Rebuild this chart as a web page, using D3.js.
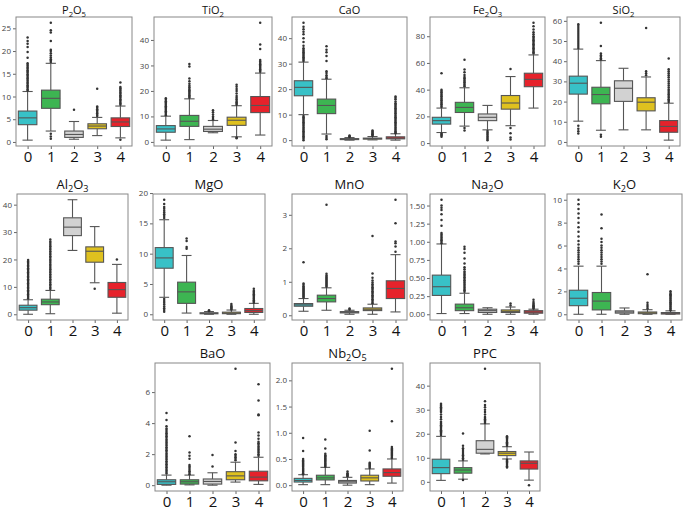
<!DOCTYPE html>
<html><head><meta charset="utf-8">
<script src="https://cdn.jsdelivr.net/npm/d3@7"></script>
<style>body{margin:0;background:#fff}</style>
</head><body><svg id="c" width="685" height="510"></svg>
<script>
const categories=["0","1","2","3","4"];
const colors=["#38c1c7","#3db552","#d2d2d2","#dfc11f","#e6222b"];

// ---- P2O5 ----
const P2O5_box=[[0.4,3.8,5.3,6.8,11.1],[2.4,7.4,9.6,11.4,17.3],[0.6,1.0,1.65,2.4,4.5],[1.4,2.9,3.5,4.0,5.4],[0.9,3.4,4.4,5.3,7.9]];
const P2O5_out=[[11.3,11.6,11.9,12.2,12.5,12.8,13.1,13.4,13.7,14,14.3,14.6,14.9,15.2,15.5,15.8,16.1,16.4,16.7,17,17.3,18.5,19.8,20.9,21.6,22.2,23.0],
 [17.6,17.9,18.2,18.6,19,19.5,20,20.3,22.2,24.1,24.6,26.2,1.8,1.2,0.7],
 [7.1],
 [5.7,6.0,6.3,6.6,6.9,7.2,7.5,7.8,11.7],
 [8.2,8.5,8.8,9.1,9.4,9.7,10,10.3,10.6,10.9,11.2,11.5,11.8,12.1,13.1,0.5]];
const P2O5_ticks=[0,5,10,15,20,25];

// ---- TiO2 ----
const TiO2_box=[[0.7,3.8,5.1,6.4,10.1],[0.9,6.1,8.1,10.4,16.9],[3.6,4.1,5.0,6.1,8.4],[2.0,6.5,8.5,9.7,14.2],[2.7,11.5,14.3,17.8,27]];
const TiO2_out=[[10.5,11,11.5,12,12.5,13,13.5,14,14.5,15,15.5,16,16.5,17.1],
 [17.3,17.8,18.3,18.8,19.3,19.8,20.3,20.8,21.4,22,22.8,23.8,24.9,29.6,30.6],
 [8.8,9.4,10,10.8,11.6,12.4],
 [14.6,15.1,15.6,16.1,16.7,17.3,18,19,20,20.8,21.6,22.4,1.7,1.4],
 [27.5,28,28.5,29,29.5,30,30.5,31,31.5,32.1,36.4,38.2,46.7]];
const TiO2_ticks=[0,10,20,30,40];

// ---- CaO ----
const CaO_box=[[10.0,17.4,20.7,23.3,30.6],[2.4,10.4,13.6,16.1,23.9],[0,0.3,0.4,0.6,1.0],[0.1,0.4,0.6,0.8,1.4],[0,0.5,0.8,1.3,2.5]];
const CaO_out=[[31,31.5,32,32.5,33,33.5,34,34.5,35,35.5,36,37,38.5,40,41.5,42.5,43.5,44.5,46,9.5,9,8.5,8,7.5,7,6.5,6,5.5,5,4.5,4,3.5,3,2.5,2,1.5,1,0.5,0],
 [24.3,24.8,25.5,26.3,27,31,33,34.5,35.5,36.8,1.6,0.9,0.3],
 [1.2,1.5,1.8],
 [1.7,2,2.3,2.6,3,3.4,3.8],
 [2.7,3,3.5,4,4.5,5,5.5,6,6.5,7,7.5,8,8.5,9,9.5,10,10.5,11,11.5,12,12.5,13,13.5,14,14.5,15.2,16,16.6,17.1]];
const CaO_ticks=[0,10,20,30,40];

// ---- Fe2O3 ----
const Fe2O3_box=[[7.9,14.2,16.8,19.3,26.2],[12.7,22.9,26.7,30.5,41.4],[9.9,16.8,19.3,21.8,28.2],[13,25.4,30.0,35.6,49.8],[26.2,42.2,47.7,52.3,66]];
const Fe2O3_out=[[27,28,29,30,31,32,33,34,35,36,37,38,39,40,52.2,7.2,6.4,5.6,4.8],
 [42.5,43.5,44.5,45.5,46.5,47.5,48.5,49.5,51,53,55,62.3,11.2,9.5],
 [9,8,7,6,5,4,3,2.2],
 [55.5,11.2,7.3,4.2,2.6],
 [67,68,69,70,71,72,73,74,75,76,77,78,79,80,81.5,83,85,87.5,90]];
const Fe2O3_ticks=[0,20,40,60,80];

// ---- SiO2 ----
const SiO2_box=[[10.3,23.7,29.1,32.6,46],[5.8,18.9,23.5,27.1,40.3],[6.0,20.1,26.6,30.3,36.5],[6.0,15.4,19.7,21.9,32.2],[0.9,4.8,7.7,10.6,19.2]];
const SiO2_out=[[46.5,47.5,48.5,49.5,50.5,51.5,52.5,53.5,54.5,55.5,56.5,57.5,58.3,8,6.6,5.3,4.2],
 [40.8,41.5,42.2,43,43.8,47.5,59,3.6,2.6],
 [],
 [33,34,35,56.5],
 [19.8,20.5,21.2,22,22.8,23.6,24.4,25.2,26,27,28,29,30,31,32,33,34,35,36,41.3]];
const SiO2_ticks=[0,10,20,30,40,50,60];

// ---- Al2O3 ----
const Al2O3_box=[[0,1.5,2.4,3.3,5.3],[0.2,3.5,4.5,5.5,8.7],[23.3,28.7,31.8,35.2,41.8],[11.5,19.0,23.0,24.6,32.0],[0.4,6.2,9.0,11.6,18.2]];
const Al2O3_out=[[5.8,6.3,6.8,7.3,7.8,8.3,8.8,9.3,9.8,10.3,10.8,11.3,11.8,12.3,12.8,13.3,13.8,14.3,14.8,15.3,15.8,16.3,16.8,17.3,17.8,18.3,18.8,19.3,19.8],
 [9.2,9.8,10.4,11,11.6,12.2,12.8,13.4,14,14.6,15.2,15.8,16.4,17,17.6,18.2,18.8,19.4,20,20.6,21.2,21.8,22.4,23,23.6,24.2,24.8,25.4,26,26.6,27.3],
 [],
 [9.3],
 [20]];
const Al2O3_ticks=[0,10,20,30,40];

// ---- MgO ----
const MgO_box=[[2.8,7.6,9.3,11.0,15.6],[0.2,1.8,3.7,5.3,9.7],[0,0.08,0.15,0.25,0.45],[0,0.1,0.2,0.35,0.7],[0,0.3,0.6,0.95,1.8]];
const MgO_out=[[15.9,16.2,16.5,16.8,17.1,17.4,17.7,18.2,18.9,2.5,2.2,1.9,1.6,1.3,1.0,0.7,0.4],
 [10.8,11.1,12.1,12.5],
 [0.55,0.65],
 [0.8,0.95,1.1,1.25,1.4,1.7],
 [1.9,2.1,2.3,2.5,2.7,2.9,3.1,3.3,3.5,3.7,3.9,4.2]];
const MgO_ticks=[0,5,10,15,20];

// ---- MnO ----
const MnO_box=[[0.12,0.27,0.31,0.35,0.5],[0.15,0.4,0.5,0.6,0.82],[0.03,0.07,0.09,0.11,0.15],[0.03,0.14,0.18,0.22,0.33],[0.1,0.5,0.8,1.03,1.81]];
const MnO_out=[[0.53,0.56,0.59,0.62,0.65,0.68,0.71,0.74,0.77,0.8,0.83,0.87,0.91,0.95,1.58],
 [0.85,0.88,0.91,0.94,0.97,1,1.03,1.06,1.09,1.12,1.15,1.19,1.24,3.3],
 [0.17,0.2],
 [0.36,0.4,0.44,0.48,0.52,0.56,0.6,0.64,0.68,0.72,0.76,0.8,0.84,0.88,0.93,0.98,1.04,1.12,1.25,2.37],
 [1.9,2.05,2.15,2.2,2.75,3.45]];
const MnO_ticks=[0,1,2,3];

// ---- Na2O ----
const Na2O_box=[[0.01,0.26,0.38,0.54,0.97],[0.01,0.05,0.09,0.14,0.29],[0,0.025,0.05,0.07,0.09],[0,0.025,0.04,0.06,0.1],[0,0.015,0.03,0.05,0.07]];
const Na2O_out=[[0.98,1.0,1.02,1.04,1.06,1.08,1.1,1.12,1.22,1.3,1.38,1.44,1.47,1.5,1.58],
 [0.31,0.33,0.35,0.37,0.39,0.41,0.43,0.45,0.47,0.49,0.51,0.53,0.55,0.57,0.59,0.62,0.65,0.7,0.77,0.85,0.9,0.93],
 [],
 [0.12,0.15],
 [0.08,0.09,0.1,0.11,0.12,0.13,0.15,0.17,0.2]];
const Na2O_ticks=[0,0.25,0.5,0.75,1.0,1.25,1.5];

// ---- K2O ----
const K2O_box=[[0,0.75,1.4,2.1,4.2],[0,0.38,1.15,1.9,4.2],[0,0.1,0.2,0.3,0.55],[0,0.05,0.12,0.2,0.4],[0,0.02,0.08,0.15,0.3]];
const K2O_out=[[4.4,4.6,4.8,5,5.2,5.4,5.6,5.8,6.1,6.4,6.8,7.2,7.6,8,8.4,8.8,9.2,9.6,10],
 [4.4,4.6,4.8,5,5.2,5.4,5.6,5.8,6,6.3,6.6,7.5,8.7],
 [],
 [0.5,0.65,0.8,1.0,3.5],
 [0.35,0.45,0.55,0.65,0.75,0.85,0.95,1.05,1.15,1.25,1.35,1.45,1.55,1.65,1.75,1.85,2.0]];
const K2O_ticks=[0,2,4,6,8,10];

// ---- BaO ----
const BaO_box=[[0,0.05,0.22,0.35,0.65],[0.02,0.07,0.22,0.35,0.65],[0,0.07,0.24,0.4,0.8],[0.2,0.35,0.6,0.87,1.48],[0.05,0.28,0.52,0.9,1.8]];
const BaO_out=[[0.75,0.85,0.95,1.05,1.15,1.25,1.35,1.45,1.55,1.65,1.75,1.85,1.95,2.05,2.15,2.25,2.35,2.45,2.55,2.65,2.75,2.85,2.95,3.05,3.15,3.25,3.35,3.45,3.55,3.65,3.8,4.2,4.65],
 [0.7,0.8,0.9,1.0,1.1,1.2,1.3,1.7,1.9,2.1,3.15],
 [1.2,1.95],
 [1.6,1.7,1.8,1.9,2.0,2.2,2.75,7.5],
 [1.9,2.0,2.1,2.2,2.3,2.4,2.5,2.6,2.7,2.8,3.0,3.2,3.4,4.5,4.55,5.45,6.5]];
const BaO_ticks=[0,2,4,6];

// ---- Nb2O5 ----
const Nb2O5_box=[[0.01,0.06,0.09,0.13,0.2],[0.01,0.1,0.14,0.19,0.34],[0,0.04,0.065,0.09,0.15],[0.01,0.08,0.14,0.19,0.31],[0.04,0.17,0.24,0.31,0.5]];
const Nb2O5_out=[[0.21,0.23,0.25,0.27,0.29,0.31,0.33,0.35,0.37,0.39,0.41,0.43,0.45,0.47,0.5,0.65,0.9],
 [0.35,0.37,0.39,0.41,0.43,0.45,0.47,0.49,0.51,0.53,0.55,0.57,0.6,0.7,0.87],
 [0.17,0.19,0.21,0.23,0.26],
 [0.33,0.35,0.37,0.39,0.41,0.43,0.66,1.04],
 [0.52,0.54,0.56,0.58,0.6,0.62,0.64,0.66,0.68,0.7,0.73,1.22,2.22]];
const Nb2O5_ticks=[0,0.5,1.0,1.5,2.0];

// ---- PPC ----
const PPC_box=[[0.6,3.4,5.9,9.4,18.9],[1.1,3.6,4.9,5.9,8.7],[11.6,11.9,13.5,17.1,24.1],[9.5,10.9,11.9,12.6,14.6],[0.7,5.3,7.7,8.7,12.4]];
const PPC_out=[[19.5,20,20.5,21,21.5,22,22.5,23,23.5,24,24.5,25,26,27,28,29,29.5,30,30.5,31,31.5,32,32.5],
 [9.2,9.8,10.4,11,11.6,12.4,13.2,14,15,20.1,0.8],
 [24.5,25,25.5,26,26.5,27,28,29,30,31,32,33.5,47],
 [15,15.5,16,16.5,17,17.5,18,18.5,19,9.2,8.8,8.4,8,7.5,7,6.5,6],
 [-1.4]];
const PPC_ticks=[0,10,20,30,40];

const titles=["P_2O_5","TiO_2","CaO","Fe_2O_3","SiO_2","Al_2O_3","MgO","MnO","Na_2O","K_2O","BaO","Nb_2O_5","PPC"];
const tickFormats=[null,null,null,null,null,null,null,null,".2f",null,null,".1f",null];

const panels=[
 [P2O5_box,P2O5_out,P2O5_ticks],[TiO2_box,TiO2_out,TiO2_ticks],[CaO_box,CaO_out,CaO_ticks],
 [Fe2O3_box,Fe2O3_out,Fe2O3_ticks],[SiO2_box,SiO2_out,SiO2_ticks],[Al2O3_box,Al2O3_out,Al2O3_ticks],
 [MgO_box,MgO_out,MgO_ticks],[MnO_box,MnO_out,MnO_ticks],[Na2O_box,Na2O_out,Na2O_ticks],
 [K2O_box,K2O_out,K2O_ticks],[BaO_box,BaO_out,BaO_ticks],[Nb2O5_box,Nb2O5_out,Nb2O5_ticks],
 [PPC_box,PPC_out,PPC_ticks]];

// layout: [left,right,top,bottom,titleSize,titleGap]
const layout=[
 [16,132,17,146,11,3],[154,272,17,146,11,3],[292,407,17,146,11,3],[430,545,17,146,11,3],[567,680,17,146,11,3],
 [17,128,194,320,13,5],[153,265,194,320,13,5],[292,407,194,320,13,5],[430,545,194,320,13,5],[567,682,194,320,13,5],
 [155,270,363,491,13,5],[292,403,363,491,13,5],[430,540,363,491,13,5]];

const svg=d3.select("#c");
const FONT="'Open Sans','Noto Sans',sans-serif";
const lineCol="#555";

panels.forEach((p,i)=>{
  const [box,out,ticks]=p;
  const [L,R,T,B,ts,gap]=layout[i];
  const vals=[];
  box.forEach(b=>vals.push(b[0],b[4]));
  out.forEach(o=>o.forEach(v=>vals.push(v)));
  const mn=d3.min(vals), mx=d3.max(vals), pad=(mx-mn)*0.05;
  const y=d3.scaleLinear().domain([mn-pad,mx+pad]).range([B,T]);
  const x=d3.scaleLinear().domain([-0.5,4.5]).range([L,R]);
  const g=svg.append("g");
  const unit=(R-L)/5, bw=unit*0.8, cw=bw*0.55;

  // y axis
  const [d0,d1]=y.domain();
  const tv=ticks.filter(t=>t>=d0-(d1-d0)*0.01 && t<=d1+(d1-d0)*0.01);
  const ax=d3.axisLeft(y).tickValues(tv).tickSize(3).tickPadding(2);
  if(tickFormats[i]) ax.tickFormat(d3.format(tickFormats[i])); else ax.tickFormat(d3.format("d"));
  const ag=g.append("g").attr("transform",`translate(${L},0)`).call(ax);
  ag.select(".domain").remove();
  ag.selectAll("line").attr("stroke","#666");
  ag.selectAll("text").attr("font-size",8).attr("fill","#444").attr("font-family",FONT);

  // x axis
  const xa=d3.axisBottom(x).tickValues([0,1,2,3,4]).tickFormat(d=>categories[d]).tickSize(3).tickPadding(2);
  const xg=g.append("g").attr("transform",`translate(0,${B})`).call(xa);
  xg.select(".domain").remove();
  xg.selectAll("line").attr("stroke","#666");
  xg.selectAll("text").attr("font-size",15).attr("fill","#111").attr("font-family",FONT);

  // boxes
  box.forEach((b,k)=>{
    const cx=x(k);
    const bg=g.append("g");
    bg.append("line").attr("x1",cx).attr("x2",cx).attr("y1",y(b[0])).attr("y2",y(b[1])).attr("stroke",lineCol).attr("stroke-width",1.1);
    bg.append("line").attr("x1",cx).attr("x2",cx).attr("y1",y(b[3])).attr("y2",y(b[4])).attr("stroke",lineCol).attr("stroke-width",1.1);
    [b[0],b[4]].forEach(v=>bg.append("line").attr("x1",cx-cw/2).attr("x2",cx+cw/2).attr("y1",y(v)).attr("y2",y(v)).attr("stroke",lineCol).attr("stroke-width",1.1));
    bg.append("rect").attr("x",cx-bw/2).attr("width",bw).attr("y",y(b[3])).attr("height",Math.max(1,y(b[1])-y(b[3])))
      .attr("fill",colors[k]).attr("stroke",lineCol).attr("stroke-width",1.1);
    bg.append("line").attr("x1",cx-bw/2).attr("x2",cx+bw/2).attr("y1",y(b[2])).attr("y2",y(b[2])).attr("stroke",lineCol).attr("stroke-width",1.1);
    bg.selectAll("circle").data(out[k]).join("circle").attr("cx",cx).attr("cy",v=>y(v)).attr("r",1.25).attr("fill","#333");
  });

  // frame
  g.append("rect").attr("x",L).attr("y",T).attr("width",R-L).attr("height",B-T).attr("fill","none").attr("stroke","#888").attr("stroke-width",1);

  // title
  const tt=g.append("text").attr("x",(L+R)/2).attr("y",T-gap).attr("text-anchor","middle").attr("font-size",ts).attr("font-family",FONT).attr("fill","#111");
  const parts=titles[i].split(/(_\d)/).filter(s=>s.length);
  let sub=false;
  parts.forEach(s=>{
    if(s.startsWith("_")){tt.append("tspan").attr("font-size",ts*0.7).attr("dy",2.5).text(s.slice(1));sub=true;}
    else{const sp=tt.append("tspan").text(s); if(sub){sp.attr("dy",-2.5);sub=false;}}
  });
});
</script></body></html>
